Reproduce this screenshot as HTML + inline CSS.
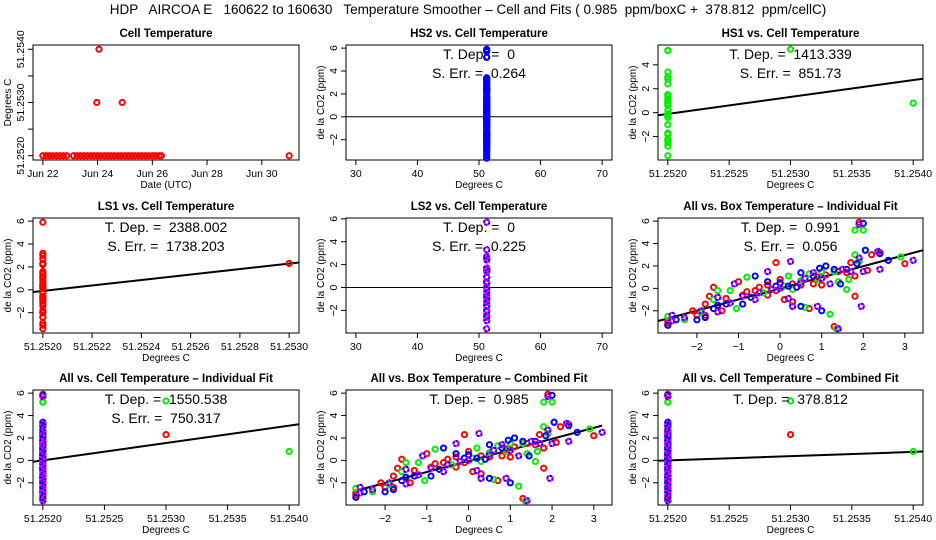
<!DOCTYPE html>
<html><head><meta charset="utf-8"><style>
body{margin:0;background:#fff}
svg{display:block;font-family:"Liberation Sans",sans-serif}
text{white-space:pre}
</style></head><body>
<svg id="c" width="936" height="540" viewBox="0 0 936 540" xmlns="http://www.w3.org/2000/svg">
<text x="468" y="14" text-anchor="middle" font-size="13.5" xml:space="preserve">HDP   AIRCOA E   160622 to 160630   Temperature Smoother – Cell and Fits ( 0.985  ppm/boxC +  378.812  ppm/cellC)</text>
</svg>
<script>
// ---- data ----
const cellTimes = [0,0.12,0.25,0.37,0.5,0.62,0.75,0.87,1.12,1.25,1.37,1.5,1.62,1.75,1.87,2.0,2.12,2.25,2.37,2.5,2.62,2.75,2.87,3.0,3.12,3.25,3.37,3.5,3.62,3.75,3.87,4.0,4.12,4.25,4.33,9.0,1.97,2.05,2.9];
const cellTemps = [51.2520,51.2520,51.2520,51.2520,51.2520,51.2520,51.2520,51.2520,51.2520,51.2520,51.2520,51.2520,51.2520,51.2520,51.2520,51.2520,51.2520,51.2520,51.2520,51.2520,51.2520,51.2520,51.2520,51.2520,51.2520,51.2520,51.2520,51.2520,51.2520,51.2520,51.2520,51.2520,51.2520,51.2520,51.2520,51.2520,51.2530,51.2540,51.2530];
const dayTicks = [0,2,4,6,8];
const dayLabels = ["Jun 22","Jun 24","Jun 26","Jun 28","Jun 30"];

const redX = [-2.7,-2.7,-2.1,-2.0,-1.8,-1.8,-1.7,-1.6,-1.4,-1.3,-1.0,-0.9,-0.8,-0.6,-0.5,-0.3,-0.3,-0.1,-0.1,0.0,0.1,0.3,0.3,0.5,0.7,0.8,0.9,1.0,1.1,1.3,1.4,1.6,1.7,1.8,1.8,1.9,1.9,2.1,2.2,2.4,3.0];
const redY = [-3.1,-2.9,-2.0,-2.4,-2.4,-1.4,-0.7,0.1,-2.0,-0.9,0.6,-0.6,-0.3,-0.2,0.1,-0.6,0.3,2.3,-0.2,0.8,-1.0,-1.2,0.4,0.3,-1.8,0.4,1.0,0.3,1.2,-3.4,1.5,1.4,2.3,1.1,-0.7,5.9,2.7,1.6,3.0,3.2,2.2];
const greenX = [-2.7,-2.3,-1.9,-1.6,-1.5,-1.2,-1.05,-0.8,-0.4,0.1,0.2,0.3,0.5,0.6,0.7,0.9,1.0,1.2,1.3,1.4,1.6,1.65,1.8,1.8,1.9,2.0,2.05,2.9,1.35];
const greenY = [-2.5,-2.8,-2.2,-1.0,-0.2,-0.2,-1.8,1.0,-0.4,0.2,1.1,-0.1,0.7,-1.7,1.3,0.8,1.5,-2.3,1.5,0.6,-0.1,0.8,3.0,5.2,2.4,5.2,3.4,2.8,-3.6];
const blueX = [-2.7,-2.5,-2.0,-1.8,-1.6,-1.3,-0.9,-0.6,-0.7,-0.3,-0.1,0.0,0.3,0.4,0.5,0.5,0.8,0.95,1.0,1.1,1.3,1.45,1.6,1.85,2.0,2.05,2.6,2.4,-1.5,0.2];
const blueY = [-3.3,-2.8,-2.8,-2.6,-1.8,-1.4,-1.4,1.1,-0.8,0.6,0.2,0.5,-1.6,0.1,1.4,-1.6,1.1,1.8,-2.0,2.0,1.7,0.4,1.7,2.2,5.8,3.4,2.5,3.1,-1.5,0.2];
const purpleX = [-2.6,-2.6,-2.3,-1.9,-1.5,-1.5,-1.2,-1.1,-0.9,-0.6,-0.5,-0.3,-0.2,0.0,0.2,0.25,0.3,0.5,0.6,0.8,0.9,1.0,1.2,1.4,1.5,1.7,1.9,1.95,2.0,2.35,2.4,3.2,1.9];
const purpleY = [-2.4,-2.9,-2.6,-2.0,-0.8,-2.1,-1.3,0.4,-0.7,-1.0,-0.4,1.5,-0.1,0.0,-0.9,2.4,-1.6,0.5,0.9,1.4,-1.6,0.9,0.4,-3.6,1.7,1.5,2.7,-1.6,1.5,3.3,1.7,2.5,5.7];

const cellBase = 51.2520;
const hs1OutX = [51.2530,51.2540], hs1OutY = [5.3,0.8];
const ls1OutX = [51.2530], ls1OutY = [2.3];
const allOutX = [51.2530,51.2530,51.2540], allOutY = [2.3,5.3,0.8], allOutC = [0,1,1];
const fitHS1 = [1413.339, -0.1], fitLS1 = [2388.002, -0.1], fitAll = [1550.538, 0.0], fitComb = [378.812, 0.0];
const fitBoxInd = [0.991, 0.0], fitBoxComb = [0.985, -0.05];

// ---- drawing ----
const S = document.getElementById('c'), NS = 'http://www.w3.org/2000/svg';
const COLS = ['#ff0000','#00ee00','#0000ff','#ff00ff'];
function el(tag, at, parent){const e=document.createElementNS(NS,tag);for(const k in at)e.setAttribute(k,at[k]);(parent||S).appendChild(e);return e;}
function txt(x,y,s,size,anchor,rot,parent){const t=el('text',{x:x,y:y,'font-size':size,'text-anchor':anchor||'middle'},parent);if(rot)t.setAttribute('transform','rotate(-90 '+x+' '+y+')');t.textContent=s;return t;}
function pad(a){const mn=Math.min(...a),mx=Math.max(...a),d=(mx-mn)||1;return [mn-0.04*d,mx+0.04*d];}

function panel(name,title,box,xlim,ylim,xt,xl,yt,yl,xlab,ylab){
  const g=el('g',{});
  
  
  const [x0,y0,x1,y1]=box;
  const sx=v=>x0+(v-xlim[0])/(xlim[1]-xlim[0])*(x1-x0);
  const sy=v=>y1-(v-ylim[0])/(ylim[1]-ylim[0])*(y1-y0);
  const r=el('rect',{x:x0,y:y0,width:x1-x0,height:y1-y0,fill:'none',stroke:'#000','stroke-width':1},g);
  
  const ti=txt((x0+x1)/2,y0-8,title,11.5,'middle',false,g);ti.setAttribute('font-weight','bold');
  
  const xa=el('g',{},g);
  el('line',{x1:sx(xt[0]),x2:sx(xt[xt.length-1]),y1:y1,y2:y1,stroke:'#000'},xa);
  xt.forEach((v,i)=>{el('line',{x1:sx(v),x2:sx(v),y1:y1,y2:y1+5,stroke:'#000'},xa);if(xl[i])txt(sx(v),y1+17,xl[i],10.5,'middle',false,xa);});
  const ya=el('g',{},g);
  el('line',{x1:x0,x2:x0,y1:sy(yt[0]),y2:sy(yt[yt.length-1]),stroke:'#000'},ya);
  yt.forEach((v,i)=>{el('line',{x1:x0,x2:x0-5,y1:sy(v),y2:sy(v),stroke:'#000'},ya);if(yl[i])txt(x0-9,sy(v),yl[i],10.5,'middle',true,ya);});
  const xt2=txt((x0+x1)/2,y1+28,xlab,10,'middle',false,g);
  const yt2=txt(x0-22,(y0+y1)/2,ylab,10,'middle',true,g);
  const cid='clip'+name;const cp=el('clipPath',{id:cid},g);el('rect',{x:x0,y:y0,width:x1-x0,height:y1-y0},cp);
  const plot=el('g',{'clip-path':'url(#'+cid+')'},g);
  return {g,plot,sx,sy,box};
}
function pt(P,x,y,c){
  const cx=P.sx(x),cy=P.sy(y);
  if(c===3){
    const a=el('circle',{cx:cx,cy:cy,r:2.6,fill:'none',stroke:COLS[3],'stroke-width':2},P.g);
    
    el('circle',{cx:cx,cy:cy,r:2.6,fill:'none',stroke:COLS[2],'stroke-width':2,'stroke-dasharray':'2 2'},P.g);
  } else {
    const a=el('circle',{cx:cx,cy:cy,r:2.6,fill:'none',stroke:COLS[c],'stroke-width':2},P.g);
    
  }
}
function abline(P,slope,inter,xa,xb,x0v){
  const f=v=>inter+slope*(v-x0v);
  const l=el('line',{x1:P.sx(xa),y1:P.sy(f(xa)),x2:P.sx(xb),y2:P.sy(f(xb)),stroke:'#000','stroke-width':2},P.plot);
  
}
function hline(P,y,xlim){const l=el('line',{x1:P.sx(xlim[0]),x2:P.sx(xlim[1]),y1:P.sy(y),y2:P.sy(y),stroke:'#000','stroke-width':1},P.plot);
  }
function stats(P,lines){const [x0,y0,x1]=P.box;lines.forEach((s,i)=>{const t=txt((x0+x1)/2,y0+14+i*19,s,14,'middle',false,P.g);});}

const C1=[33,299],C2=[346,612],C3=[658,923],R1=[45,160],R2=[218,333],R3=[390,505];
const B=(c,r)=>[c[0],r[0],c[1],r[1]];
const allY=redY.concat(greenY,blueY,purpleY);
const yT=[-4,-2,0,2,4,6], yL=['−4','−2','0','2','4','6'];
const cT=[51.2520,51.2525,51.2530,51.2535,51.2540], cL=['51.2520','51.2525','51.2530','51.2535','51.2540'];
const tT=[30,40,50,60,70], tL=['30','40','50','60','70'];
const bT=[-2,-1,0,1,2,3], bL=['−2','−1','0','1','2','3'];
const clip=(t,l,lim)=>{const ti=[],li=[];t.forEach((v,i)=>{if(v>=lim[0]&&v<=lim[1]){ti.push(v);li.push(l[i]);}});return [ti,li];};
const Y='de la CO2 (ppm)', DC='Degrees C';

// Panel 1
{const xl=pad(cellTimes), yl=pad(cellTemps);
 const P=panel('cell-temperature','Cell Temperature',B(C1,R1),xl,yl,dayTicks,dayLabels,[51.2520,51.2525,51.2530,51.2535,51.2540],['51.2520','','51.2530','','51.2540'],'Date (UTC)','Degrees C');
 cellTimes.forEach((t,i)=>pt(P,t,cellTemps[i],0));}
// Panel 2
{const xl=[28.4,71.6], yl=pad(blueY.concat(redY)); const [a,b]=clip(yT,yL,yl);
 const P=panel('hs2-vs-cell','HS2 vs. Cell Temperature',B(C2,R1),xl,yl,tT,tL,a,b,DC,Y);
 hline(P,0,xl); allY.forEach(y=>pt(P,51.252,y,2)); stats(P,['T. Dep. =  0','S. Err. =  0.264']);}
// Panel 3
{const xs=[cellBase].concat(hs1OutX), xl=pad(xs), yl=pad(greenY.concat(hs1OutY)); const [a,b]=clip(yT,yL,yl);
 const P=panel('hs1-vs-cell','HS1 vs. Cell Temperature',B(C3,R1),xl,yl,cT,cL,a,b,DC,Y);
 greenY.forEach(y=>pt(P,cellBase,y,1)); hs1OutX.forEach((x,i)=>pt(P,x,hs1OutY[i],1));
 abline(P,fitHS1[0],fitHS1[1],xl[0],xl[1],cellBase); stats(P,['T. Dep. =  1413.339','S. Err. =  851.73']);}
// Panel 4
{const xs=[cellBase].concat(ls1OutX), xl=pad(xs), yl=pad(redY); const [a,b]=clip(yT,yL,yl);
 const P=panel('ls1-vs-cell','LS1 vs. Cell Temperature',B(C1,R2),xl,yl,[51.2520,51.2522,51.2524,51.2526,51.2528,51.2530],['51.2520','51.2522','51.2524','51.2526','51.2528','51.2530'],a,b,DC,Y);
 redY.forEach(y=>pt(P,cellBase,y,0)); ls1OutX.forEach((x,i)=>pt(P,x,ls1OutY[i],0));
 abline(P,fitLS1[0],fitLS1[1],xl[0],xl[1],cellBase); stats(P,['T. Dep. =  2388.002','S. Err. =  1738.203']);}
// Panel 5
{const xl=[28.4,71.6], yl=pad(purpleY); const [a,b]=clip(yT,yL,yl);
 const P=panel('ls2-vs-cell','LS2 vs. Cell Temperature',B(C2,R2),xl,yl,tT,tL,a,b,DC,Y);
 hline(P,0,xl); purpleY.forEach(y=>pt(P,51.252,y,3)); stats(P,['T. Dep. =  0','S. Err. =  0.225']);}
// Panels 6 & 8
function boxPanel(name,title,box,fit,full,lines){
 const xl=pad(redX.concat(greenX,blueX,purpleX)), yl=pad(allY); const [a,b]=clip(yT,yL,yl);
 const P=panel(name,title,box,xl,yl,bT,bL,a,b,DC,Y);
 redX.forEach((x,i)=>pt(P,x,redY[i],0)); greenX.forEach((x,i)=>pt(P,x,greenY[i],1));
 blueX.forEach((x,i)=>pt(P,x,blueY[i],2)); purpleX.forEach((x,i)=>pt(P,x,purpleY[i],3));
 const xa=full?xl[0]:Math.min(...redX,...blueX), xb=full?xl[1]:Math.max(...purpleX);
 abline(P,fit[0],fit[1],xa,xb,0); stats(P,lines);}
boxPanel('all-vs-box-individual','All vs. Box Temperature – Individual Fit',B(C3,R2),fitBoxInd,true,['T. Dep. =  0.991','S. Err. =  0.056']);
boxPanel('all-vs-box-combined','All vs. Box Temperature – Combined Fit',B(C2,R3),fitBoxComb,false,['T. Dep. =  0.985']);
// Panels 7 & 9
function cellAll(name,title,box,fit,lines){
 const xs=[cellBase].concat(allOutX), xl=pad(xs), yl=pad(allY); const [a,b]=clip(yT,yL,yl);
 const P=panel(name,title,box,xl,yl,cT,cL,a,b,DC,Y);
 redY.forEach(y=>pt(P,cellBase,y,0)); greenY.forEach(y=>pt(P,cellBase,y,1));
 blueY.forEach(y=>pt(P,cellBase,y,2)); purpleY.forEach(y=>pt(P,cellBase,y,3));
 allOutX.forEach((x,i)=>pt(P,x,allOutY[i],allOutC[i]));
 abline(P,fit[0],fit[1],xl[0],xl[1],cellBase); stats(P,lines);}
cellAll('all-vs-cell-individual','All vs. Cell Temperature – Individual Fit',B(C1,R3),fitAll,['T. Dep. =  1550.538','S. Err. =  750.317']);
cellAll('all-vs-cell-combined','All vs. Cell Temperature – Combined Fit',B(C3,R3),fitComb,['T. Dep. =  378.812']);
</script>
</body></html>
